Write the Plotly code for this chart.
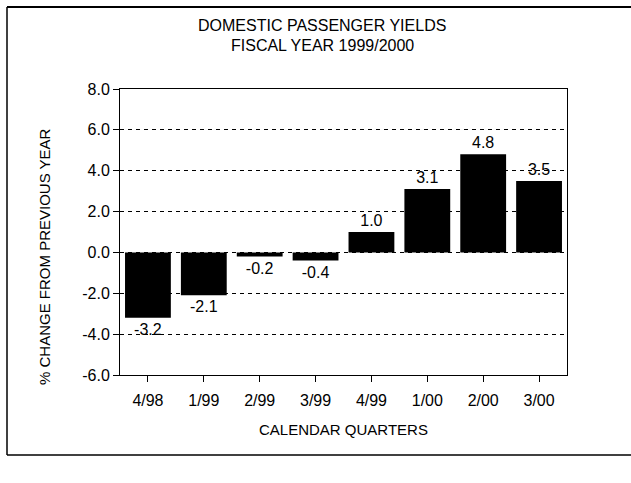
import plotly.graph_objects as go

quarters = ['4/98', '1/99', '2/99', '3/99', '4/99', '1/00', '2/00', '3/00']
pct_change = [-3.2, -2.1, -0.2, -0.4, 1.0, 3.1, 4.8, 3.5]
y_ticks = [-6, -4, -2, 0, 2, 4, 6, 8]

W, H = 631, 483
L, R, T, B = 120, 64, 89, 108
pw, ph = W - L - R, H - T - B

def px_x(x):
    return (x - L) / pw

def px_y(y):
    return (H - B - y) / ph

fnt = 'Liberation Sans, Arial, Helvetica, sans-serif'

fig = go.Figure(go.Bar(
    x=quarters, y=pct_change,
    marker=dict(color='black', line=dict(width=0)),
    text=['%.1f' % v for v in pct_change],
    textposition='outside',
    textfont=dict(size=16, color='black'),
    cliponaxis=False,
    width=0.82,
))

def note(txt, x, y, size, angle=0):
    return dict(text=txt, xref='paper', yref='paper', x=px_x(x), y=px_y(y),
                xanchor='center', yanchor='middle', textangle=angle,
                showarrow=False, font=dict(size=size))

def edge(xa, ya, xb, yb, w=1.5):
    return dict(type='line', xref='paper', yref='paper',
                x0=px_x(xa), y0=px_y(ya), x1=px_x(xb), y1=px_y(yb),
                line=dict(color='black', width=w))

fig.update_layout(
    width=W, height=H,
    margin=dict(l=L, r=R, t=T, b=B),
    paper_bgcolor='white', plot_bgcolor='white',
    font=dict(family=fnt, color='black', size=15),
    showlegend=False,
    xaxis=dict(
        showline=True, linecolor='black', linewidth=1, mirror=True,
        ticks='outside', ticklen=6, tickcolor='black',
        tickfont=dict(size=16), showgrid=False, ticklabelstandoff=5,
    ),
    yaxis=dict(
        range=[-6, 8], tickvals=y_ticks,
        ticktext=['%.1f' % v for v in y_ticks],
        showline=True, linecolor='black', linewidth=1, mirror=True,
        ticks='outside', ticklen=6, tickcolor='black',
        tickfont=dict(size=16),
        showgrid=True, gridcolor='black', gridwidth=1, griddash='4px,4px',
        zeroline=False,
    ),
    # outer page frame (right edge runs off the picture)
    shapes=[
        edge(7, 7, 640, 7, 2),
        edge(7, 7, 7, 455),
        edge(7, 455, 640, 455),
    ],
    annotations=[
        note('DOMESTIC PASSENGER YIELDS', 322, 25, 16),
        note('FISCAL YEAR 1999/2000', 322, 45, 16),
        note('% CHANGE FROM PREVIOUS YEAR', 44, 257, 15, -90),
        note('CALENDAR QUARTERS', 343, 429, 15),
    ],
)

fig.write_html('out.html', config={'displayModeBar': False},
               post_script="document.body.style.margin='0';")
